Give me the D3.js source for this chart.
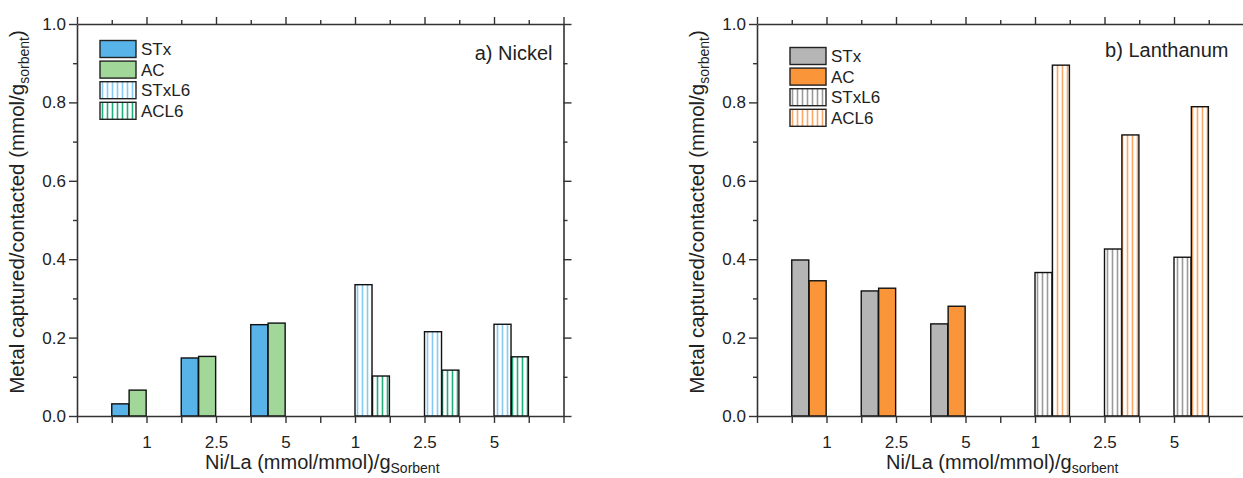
<!DOCTYPE html>
<html>
<head>
<meta charset="utf-8">
<script src="https://cdnjs.cloudflare.com/ajax/libs/d3/7.8.5/d3.min.js"></script>
<style>
  body { margin: 0; background: #fff; }
  svg text { font-family: Arial, "Liberation Sans", sans-serif; fill: #222; }
</style>
</head>
<body>
<svg id="chart" width="1243" height="478"></svg>
<script>
// tick labels under each group slot
var tickLabels = ["1", "2.5", "5", "1", "2.5", "5"];

// a) Nickel
var niSTx   = [0.031, 0.148, 0.233];
var niAC    = [0.066, 0.152, 0.237];
var niSTxL6 = [0.335, 0.215, 0.234];
var niACL6  = [0.102, 0.117, 0.151];

// b) Lanthanum
var laSTx   = [0.398, 0.319, 0.235];
var laAC    = [0.345, 0.326, 0.280];
var laSTxL6 = [0.366, 0.426, 0.405];
var laACL6  = [0.895, 0.717, 0.789];

var seriesNames = ["STx", "AC", "STxL6", "ACL6"];

var svg = d3.select("#chart");
var defs = svg.append("defs");

// vertical hatch pattern
function hatch(id, color) {
  var p = defs.append("pattern")
    .attr("id", id)
    .attr("patternUnits", "userSpaceOnUse")
    .attr("width", 5).attr("height", 10);
  p.append("rect").attr("width", 5).attr("height", 10).attr("fill", "#fff");
  p.append("line")
    .attr("x1", 2.5).attr("x2", 2.5).attr("y1", 0).attr("y2", 10)
    .attr("stroke", color).attr("stroke-width", 1.6);
}
hatch("hBlue", "#86c9f2");
hatch("hGreen", "#22ad7c");
hatch("hGrey", "#9a9a9a");
hatch("hOrange", "#fba866");

function drawPanel(opt) {
  var x = d3.scaleLinear().domain([0, 7]).range([opt.left, opt.right]);
  var y = d3.scaleLinear().domain([0, 1]).range([416, 24]);
  var g = svg.append("g");
  var barW = x(0.245) - x(0);

  // bars: plain series sit left of the tick, L6 series right of it
  var sets = [
    { vals: opt.data[0], off: -0.5, fill: opt.fills[0] },
    { vals: opt.data[1], off: -0.25, fill: opt.fills[1] },
    { vals: opt.data[2], off: 0, fill: opt.fills[2] },
    { vals: opt.data[3], off: 0.25, fill: opt.fills[3] }
  ];
  sets.forEach(function (s, si) {
    var base = si < 2 ? 1 : 4;
    g.selectAll(null).data(s.vals).enter().append("rect")
      .attr("x", function (d, i) { return x(base + i + s.off); })
      .attr("y", function (d) { return y(d); })
      .attr("width", barW)
      .attr("height", function (d) { return y(0) - y(d); })
      .attr("fill", s.fill)
      .attr("stroke", "#111")
      .attr("stroke-width", 1.4);
  });

  // axes
  var axCol = "#333";
  function styleAxis(sel) {
    sel.select(".domain").attr("stroke", axCol).attr("stroke-width", 1.6);
    sel.selectAll(".tick line").attr("stroke", axCol).attr("stroke-width", 1.4);
  }
  var halfTicks = d3.range(0, 7.01, 0.5);
  var ax = g.append("g").attr("transform", "translate(0," + y(0) + ")")
    .call(d3.axisBottom(x).tickValues(halfTicks).tickSize(7).tickSizeOuter(0)
      .tickFormat(function (d) { return (d % 1 === 0 && d >= 1 && d <= 6) ? tickLabels[d - 1] : ""; }));
  styleAxis(ax);
  ax.selectAll("text").attr("font-size", "17px").attr("dy", "1.3em").attr("fill", "#222");

  var axT = g.append("g").attr("transform", "translate(0," + y(1) + ")")
    .call(d3.axisTop(x).tickValues(halfTicks).tickSizeOuter(0).tickFormat(""));
  styleAxis(axT);
  axT.selectAll(".tick line").attr("y2", function (d) { return d % 1 === 0 ? -7 : -4; });

  var yMinor = d3.range(0, 1.01, 0.1);
  var ayL = g.append("g").attr("transform", "translate(" + x(0) + ",0)")
    .call(d3.axisLeft(y).tickValues(yMinor).tickSizeOuter(0)
      .tickFormat(function (d) { return Math.round(d * 10) % 2 === 0 ? d3.format(".1f")(d) : ""; }));
  styleAxis(ayL);
  ayL.selectAll(".tick line").attr("x2", function (d) { return Math.round(d * 10) % 2 === 0 ? -8 : -4; });
  ayL.selectAll("text").attr("font-size", "17px").attr("x", -11).attr("fill", "#222");

  var ayR = g.append("g").attr("transform", "translate(" + x(7) + ",0)")
    .call(d3.axisRight(y).tickValues(yMinor).tickSizeOuter(0).tickFormat(""));
  styleAxis(ayR);
  ayR.selectAll(".tick line").attr("x2", function (d) { return Math.round(d * 10) % 2 === 0 ? 8 : 4; });

  // axis titles
  var yt = g.append("text")
    .attr("transform", "translate(" + (x(0) - 53) + ",212) rotate(-90)")
    .attr("text-anchor", "middle").attr("font-size", "20.5px");
  yt.append("tspan").text("Metal captured/contacted (mmol/g");
  yt.append("tspan").attr("font-size", "14px").attr("dy", 5).text("sorbent");
  yt.append("tspan").attr("dy", -5).text(")");

  var xt = g.append("text")
    .attr("x", (x(0) + x(7)) / 2 + 2).attr("y", 469)
    .attr("text-anchor", "middle").attr("font-size", "20px");
  xt.append("tspan").text("Ni/La (mmol/mmol)/g");
  xt.append("tspan").attr("font-size", "14px").attr("dy", 4).text(opt.sub);

  // panel title
  g.append("text").attr("x", x(7) - opt.titleInset).attr("y", opt.titleY)
    .attr("text-anchor", "end").attr("font-size", "20px").text(opt.title);

  // legend
  seriesNames.forEach(function (n, i) {
    var ly = opt.legY + i * 20.6;
    g.append("rect").attr("x", x(0) + opt.legDx).attr("y", ly)
      .attr("width", 36).attr("height", 17)
      .attr("fill", opt.fills[i]).attr("stroke", "#222").attr("stroke-width", 1.4);
    g.append("text").attr("x", x(0) + opt.legDx + 41).attr("y", ly + 14.5)
      .attr("font-size", "17px").text(n);
  });
}

drawPanel({
  left: 77, right: 563.5,
  data: [niSTx, niAC, niSTxL6, niACL6],
  fills: ["#58b3e8", "#a1d799", "url(#hBlue)", "url(#hGreen)"],
  sub: "Sorbent", title: "a) Nickel", titleInset: 11, titleY: 60,
  legDx: 23, legY: 40.5
});
drawPanel({
  left: 757, right: 1243.5,
  data: [laSTx, laAC, laSTxL6, laACL6],
  fills: ["#b5b5b5", "#fb9539", "url(#hGrey)", "url(#hOrange)"],
  sub: "sorbent", title: "b) Lanthanum", titleInset: 15, titleY: 57,
  legDx: 33, legY: 47.5
});
</script>
</body>
</html>
